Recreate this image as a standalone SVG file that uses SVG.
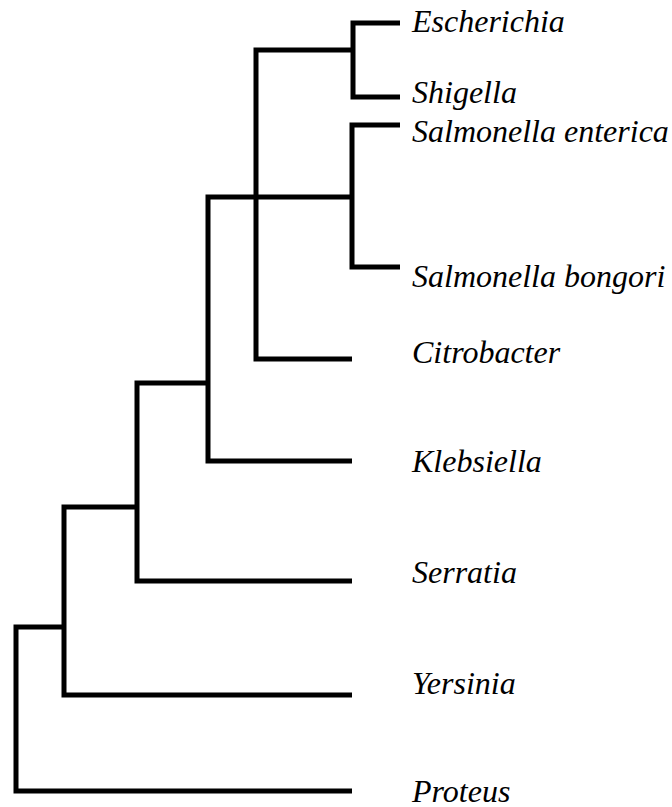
<svg xmlns="http://www.w3.org/2000/svg" width="672" height="807" viewBox="0 0 672 807">
<style>
.br{fill:none;stroke:#000;stroke-width:5;stroke-linejoin:miter;stroke-linecap:butt}
.lb{font-family:"Liberation Serif","Times New Roman",serif;font-style:italic;font-size:32px;fill:#000}
</style>
<rect width="672" height="807" fill="#fff"/>
<g id="connectors">
<path class="br" d="M400,23 H353 V97 H400"/>
<path class="br" d="M353,50 H256 V359 H352"/>
<path class="br" d="M400,125 H352 V267 H400"/>
<path class="br" d="M352,197 H208 V461 H352"/>
<path class="br" d="M208,383 H137 V581 H352"/>
<path class="br" d="M137,507 H64 V695 H352"/>
<path class="br" d="M64,627 H16 V791 H352"/>
</g>
<g id="escherichia"><text class="lb" x="412" y="32">Escherichia</text></g>
<g id="shigella"><text class="lb" x="412" y="103">Shigella</text></g>
<g id="salmonella-enterica"><text class="lb" x="412" y="142">Salmonella enterica</text></g>
<g id="salmonella-bongori"><text class="lb" x="412" y="287">Salmonella bongori</text></g>
<g id="citrobacter"><text class="lb" x="412" y="363">Citrobacter</text></g>
<g id="klebsiella"><text class="lb" x="412" y="472">Klebsiella</text></g>
<g id="serratia"><text class="lb" x="412" y="583">Serratia</text></g>
<g id="yersinia"><text class="lb" x="412" y="694">Yersinia</text></g>
<g id="proteus"><text class="lb" x="412" y="802">Proteus</text></g>
</svg>
